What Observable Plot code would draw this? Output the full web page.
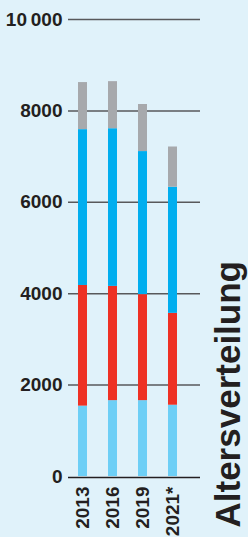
<!DOCTYPE html>
<html>
<head>
<meta charset="utf-8">
<script src="https://cdn.jsdelivr.net/npm/d3@7"></script>
<script src="https://cdn.jsdelivr.net/npm/@observablehq/plot@0.6"></script>
<style>
  html, body { margin: 0; padding: 0; background: #e0f2fa; }
  #chart svg { display: block; }
</style>
</head>
<body>
<div id="chart"></div>
<script>
const years = ["2013", "2016", "2019", "2021*"];
const groups = ["Gruppe 1", "Gruppe 2", "Gruppe 3", "Gruppe 4"];
const colors = ["#6dcff6", "#ee3124", "#00aeef", "#a7a9ac"];
const group1 = [1540, 1660, 1660, 1560];
const group2 = [2640, 2500, 2320, 2010];
const group3 = [3410, 3450, 3130, 2760];
const group4 = [1030, 1030, 1030, 880];
const yTicks = [0, 2000, 4000, 6000, 8000, 10000];
const yTickLabels = ["0", "2000", "4000", "6000", "8000", "10\u2009000"];
const title = "Altersverteilung";

const values = [group1, group2, group3, group4];
const data = groups.flatMap((g, i) => years.map((yr, j) => ({year: yr, group: g, value: values[i][j]})));

const font = "'Liberation Sans', Arial, Helvetica, sans-serif";

const chart = Plot.plot({
  width: 248,
  height: 537,
  marginTop: 19,
  marginBottom: 61,
  marginLeft: 68,
  marginRight: 48,
  style: {background: "#e0f2fa", fontFamily: font, color: "#231f20"},
  x: {domain: years, range: [61.5, 193.5], paddingInner: 0.7, paddingOuter: 0.5},
  y: {domain: [0, 10000]},
  color: {domain: groups, range: colors},
  marks: [
    Plot.ruleY(yTicks.slice(1), {stroke: "#58595b", strokeWidth: 1.5}),
    Plot.barY(data, {x: "year", y: "value", fill: "group"}),
    Plot.ruleY([0], {stroke: "#231f20", strokeWidth: 1.5, dy: 1}),
    Plot.axisY(yTicks, {
      tickSize: 0, tickPadding: 6, label: null,
      tickFormat: d => yTickLabels[yTicks.indexOf(d)],
      fontSize: 19, fontWeight: "bold", fill: "#231f20"
    }),
    Plot.axisX({
      tickSize: 0, tickRotate: -90, tickPadding: 10, label: null,
      fontSize: 19, fontWeight: "bold", fill: "#231f20"
    }),
    Plot.text([title], {
      frameAnchor: "bottom-right", rotate: -90, textAnchor: "start", lineAnchor: "bottom",
      dx: 39, dy: 51, fontSize: 35, fontWeight: "bold", fill: "#231f20"
    })
  ]
});
document.getElementById("chart").appendChild(chart);
</script>
</body>
</html>
